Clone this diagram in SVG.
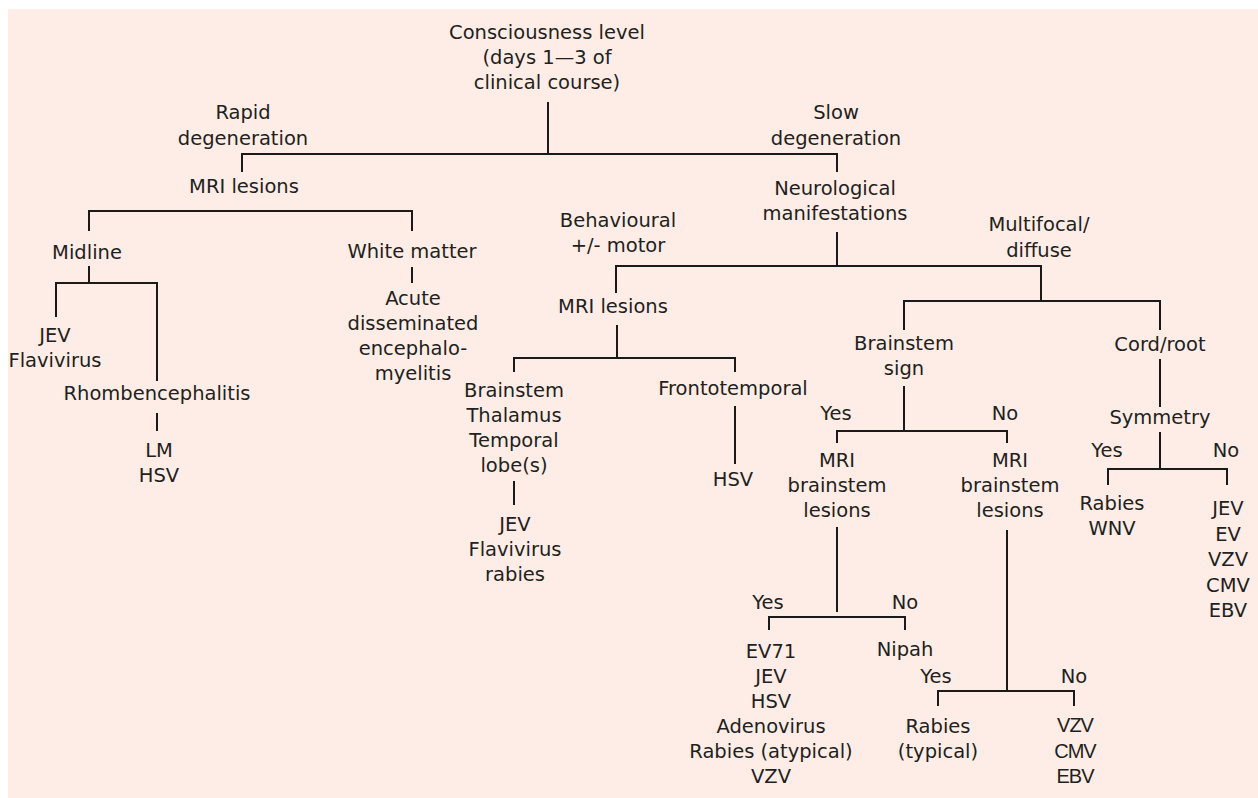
<svg xmlns="http://www.w3.org/2000/svg" width="1258" height="798" viewBox="0 0 1258 798">
<style>
text{font-family:"DejaVu Sans","Liberation Sans",sans-serif;font-size:19.5px;fill:#231f20;text-anchor:middle}
.c path{fill:none;stroke:#1a1a1a;stroke-width:2}
</style>
<rect x="0" y="0" width="1258" height="798" fill="#ffffff"/>
<rect x="8" y="9" width="1250" height="789" fill="#fdede6"/>
<g class="c" id="connectors">
<path d="M548,102 V154"/>
<path d="M242,172 V154 H837 V172"/>
<path d="M89,231 V211 H412 V231"/>
<path d="M89,266 V283"/>
<path d="M56,317 V283 H157 V381"/>
<path d="M157,413 V431"/>
<path d="M412,267 V283"/>
<path d="M837,232 V266"/>
<path d="M616,293 V266 H1041 V301"/>
<path d="M904,330 V301 H1160 V330"/>
<path d="M617,325 V358"/>
<path d="M514,372 V358 H735 V372"/>
<path d="M514,481 V505"/>
<path d="M735,406 V464"/>
<path d="M904,386 V431"/>
<path d="M837,443 V431 H1007 V443"/>
<path d="M1160,359 V407"/>
<path d="M1160,432 V469"/>
<path d="M1108,485 V469 H1227 V485"/>
<path d="M837,527 V612"/>
<path d="M769,630 V617 H905 V630"/>
<path d="M1007,530 V691"/>
<path d="M938,706 V691 H1074 V706"/>
</g>
<g id="n_root"><text x="547" y="39">Consciousness level<tspan x="547" dy="25">(days 1—3 of</tspan><tspan x="547" dy="25">clinical course)</tspan></text></g>
<g id="n_rapid"><text x="243" y="119">Rapid<tspan x="243" dy="26">degeneration</tspan></text></g>
<g id="n_slow"><text x="836" y="119">Slow<tspan x="836" dy="26">degeneration</tspan></text></g>
<g id="n_mri1"><text x="244" y="193">MRI lesions</text></g>
<g id="n_neuro"><text x="835" y="195">Neurological<tspan x="835" dy="25">manifestations</tspan></text></g>
<g id="n_midline"><text x="87" y="259">Midline</text></g>
<g id="n_white"><text x="412" y="258">White matter</text></g>
<g id="n_adem"><text x="413" y="305">Acute<tspan x="413" dy="25">disseminated</tspan><tspan x="413" dy="25">encephalo-</tspan><tspan x="413" dy="25">myelitis</tspan></text></g>
<g id="n_jev1"><text x="55" y="342">JEV<tspan x="55" dy="25">Flavivirus</tspan></text></g>
<g id="n_rhombo"><text x="157" y="400">Rhombencephalitis</text></g>
<g id="n_lmhsv"><text x="159" y="457">LM<tspan x="159" dy="25">HSV</tspan></text></g>
<g id="n_behav"><text x="618" y="227">Behavioural<tspan x="618" dy="25">+/- motor</tspan></text></g>
<g id="n_multi"><text x="1039" y="231">Multifocal/<tspan x="1039" dy="26">diffuse</tspan></text></g>
<g id="n_mri2"><text x="613" y="313">MRI lesions</text></g>
<g id="n_bttl"><text x="514" y="397">Brainstem<tspan x="514" dy="25">Thalamus</tspan><tspan x="514" dy="25">Temporal</tspan><tspan x="514" dy="25">lobe(s)</tspan></text></g>
<g id="n_jfr"><text x="515" y="531">JEV<tspan x="515" dy="25">Flavivirus</tspan><tspan x="515" dy="25">rabies</tspan></text></g>
<g id="n_fronto"><text x="733" y="395">Frontotemporal</text></g>
<g id="n_hsv2"><text x="733" y="486">HSV</text></g>
<g id="n_bsign"><text x="904" y="350">Brainstem<tspan x="904" dy="25">sign</tspan></text></g>
<g id="n_cord"><text x="1160" y="351">Cord/root</text></g>
<g id="n_sym"><text x="1160" y="424">Symmetry</text></g>
<g id="labels">
<text x="836" y="420">Yes</text>
<text x="1005" y="420">No</text>
<text x="1107" y="457">Yes</text>
<text x="1226" y="457">No</text>
<text x="768" y="609">Yes</text>
<text x="905" y="609">No</text>
<text x="936" y="683">Yes</text>
<text x="1074" y="683">No</text>
</g>
<g id="n_mribl"><text x="837" y="467">MRI<tspan x="837" dy="25">brainstem</tspan><tspan x="837" dy="25">lesions</tspan></text></g>
<g id="n_mribr"><text x="1010" y="467">MRI<tspan x="1010" dy="25">brainstem</tspan><tspan x="1010" dy="25">lesions</tspan></text></g>
<g id="n_rabwnv"><text x="1112" y="510">Rabies<tspan x="1112" dy="25">WNV</tspan></text></g>
<g id="n_jevright"><text x="1228" y="515">JEV<tspan x="1228" dy="25.5">EV</tspan><tspan x="1228" dy="25.5">VZV</tspan><tspan x="1228" dy="25.5">CMV</tspan><tspan x="1228" dy="25.5">EBV</tspan></text></g>
<g id="n_ev71"><text x="771" y="658">EV71<tspan x="771" dy="25">JEV</tspan><tspan x="771" dy="25">HSV</tspan><tspan x="771" dy="25">Adenovirus</tspan><tspan x="771" dy="25">Rabies (atypical)</tspan><tspan x="771" dy="25">VZV</tspan></text></g>
<g id="n_nipah"><text x="905" y="656">Nipah</text></g>
<g id="n_rabtyp"><text x="938" y="733">Rabies<tspan x="938" dy="25">(typical)</tspan></text></g>
<g id="n_vzv"><text x="1075" y="732" style="font-family:'Liberation Sans',sans-serif;font-size:20px;letter-spacing:-1px">VZV<tspan x="1075" dy="25.5">CMV</tspan><tspan x="1075" dy="25.5">EBV</tspan></text></g>
</svg>
